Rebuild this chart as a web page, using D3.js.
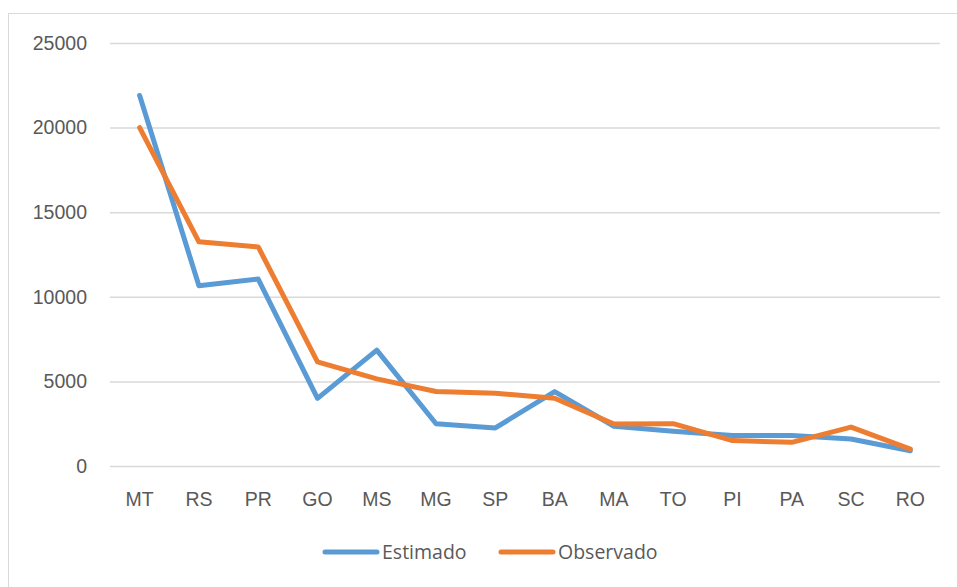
<!DOCTYPE html>
<html>
<head>
<meta charset="utf-8">
<script src="https://cdn.jsdelivr.net/npm/d3@7/dist/d3.min.js"></script>
<style>
  html, body { margin: 0; padding: 0; background: #fff; }
  svg { display: block; font-family: "Open Sans", Lato, sans-serif; }
</style>
</head>
<body>
<svg id="chart" width="957" height="587"></svg>
<script>
const categories = ["MT", "RS", "PR", "GO", "MS", "MG", "SP", "BA", "MA", "TO", "PI", "PA", "SC", "RO"];
const estimado  = [21900, 10650, 11050, 4000, 6850, 2500, 2250, 4400, 2350, 2050, 1800, 1800, 1600, 900];
const observado = [20000, 13250, 12950, 6150, 5150, 4400, 4300, 4000, 2480, 2500, 1500, 1400, 2300, 1000];
const yTicks = [0, 5000, 10000, 15000, 20000, 25000];
const seriesNames = ["Estimado", "Observado"];
const seriesColors = ["#5B9BD5", "#ED7D31"];

const svg = d3.select("#chart");
const W = 957, H = 587;
const plot = { left: 110, right: 940, top: 43, bottom: 466 };
const fontSize = 19.5;

// chart frame
svg.append("rect")
  .attr("x", 8.5).attr("y", 13.5)
  .attr("width", W + 10).attr("height", H + 10)
  .attr("fill", "none").attr("stroke", "#D9D9D9").attr("stroke-width", 1);

const x = d3.scaleBand().domain(categories).range([plot.left, plot.right]);
const y = d3.scaleLinear().domain([0, 25000]).range([plot.bottom, plot.top]);

// horizontal gridlines + y labels
const yAxis = d3.axisLeft(y).tickValues(yTicks).tickSize(-(plot.right - plot.left)).tickPadding(23).tickFormat(d3.format("d"));
const gy = svg.append("g").attr("transform", `translate(${plot.left},0)`).call(yAxis);
gy.select(".domain").remove();
gy.selectAll(".tick line").attr("stroke", "#D9D9D9").attr("stroke-width", 1.5);
gy.selectAll(".tick text").attr("fill", "#595959").attr("font-size", fontSize);

// category labels
const xAxis = d3.axisBottom(x).tickSize(0).tickPadding(26);
const gx = svg.append("g").attr("transform", `translate(0,${plot.bottom})`).call(xAxis);
gx.select(".domain").remove();
gx.selectAll(".tick text").attr("fill", "#595959").attr("font-size", fontSize);

// series lines
const line = d3.line()
  .x((d, i) => x(categories[i]) + x.bandwidth() / 2)
  .y(d => y(d));

[estimado, observado].forEach((vals, k) => {
  svg.append("path")
    .datum(vals)
    .attr("d", line)
    .attr("fill", "none")
    .attr("stroke", seriesColors[k])
    .attr("stroke-width", 5)
    .attr("stroke-linejoin", "round")
    .attr("stroke-linecap", "round");
});

// legend
const legendX = [323, 499];
seriesNames.forEach((name, k) => {
  const g = svg.append("g").attr("transform", `translate(${legendX[k]},552)`);
  g.append("line").attr("x1", 2).attr("x2", 54).attr("y1", 0).attr("y2", 0)
    .attr("stroke", seriesColors[k]).attr("stroke-width", 5).attr("stroke-linecap", "round");
  g.append("text").attr("x", 59).attr("y", 0).attr("dy", "0.36em")
    .attr("fill", "#595959").attr("font-size", fontSize).text(name);
});
</script>
</body>
</html>
